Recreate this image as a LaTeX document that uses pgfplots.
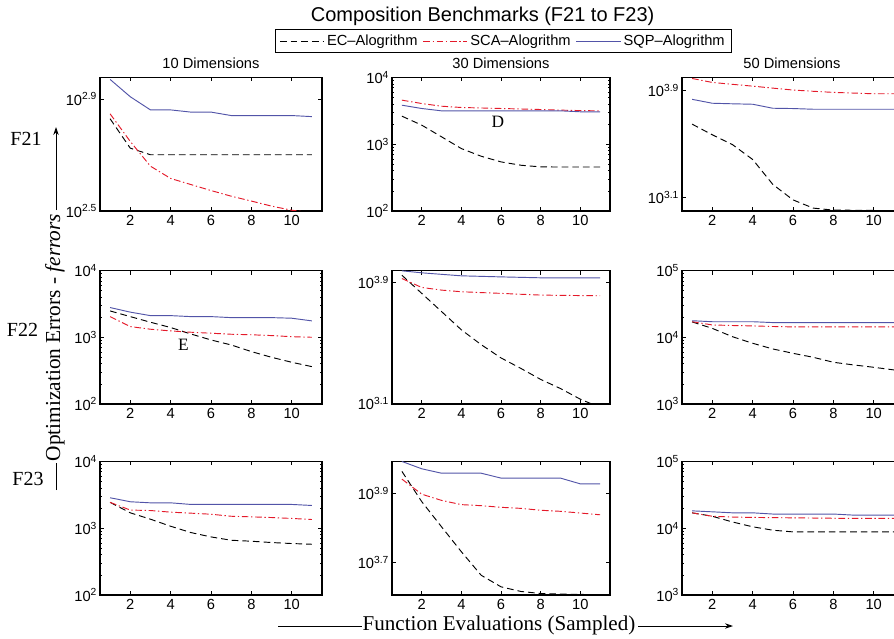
\documentclass[border=0pt]{standalone}
\usepackage{fontspec}
\setmainfont{Liberation Sans}
\newfontfamily\tms{Liberation Serif}
\usepackage{pgfplots}
\pgfplotsset{compat=1.18}
\usetikzlibrary{arrows.meta}

\definecolor{scared}{RGB}{228,26,42}
\definecolor{sqpblue}{RGB}{82,84,168}

\pgfkeys{/pgf/number format/assume math mode=true}
\pgfplotsset{
  panel/.style={
    scale only axis, width=166.5pt, height=100.1pt, anchor=north west,
    log basis y=10,
    xmin=0.5, xmax=11.5, xtick={2,4,6,8,10},
    tick align=inside, tick pos=both,
    axis line style={line width=0.9pt},
    major tick length=3pt, minor tick length=1.6pt,
    every tick/.style={black, line width=0.5pt},
    every tick label/.append style={font=\fontsize{11}{12}\selectfont},
    xticklabel style={font=\fontsize{11}{12}\selectfont},
    yticklabel style={font=\fontsize{11}{12}\selectfont, inner xsep=2pt},
    yticklabel={10\textsuperscript{\pgfmathprintnumber[fixed,precision=1]{\tick}}},
  },
  ec/.style={black, line width=0.7pt, dash pattern=on 5pt off 3pt},
  sca/.style={scared, line width=0.7pt, dash pattern=on 5pt off 2pt on 1pt off 2pt},
  sqp/.style={sqpblue, line width=0.7pt},
}

\begin{document}
\begin{tikzpicture}
\useasboundingbox (0,0) rectangle (670.5pt,-479.25pt);

% ---- row F21 ----
\begin{semilogyaxis}[panel, at={(75pt,-58.1pt)}, ymin=316.23, ymax=948, ytick={316.228,794.328}]
\addplot[ec] coordinates {(1,675)(2,530)(3,502)(4,502)(5,502)(6,502)(7,502)(8,502)(9,502)(10,502)(11,502)};
\addplot[sca] coordinates {(1,703)(2,560)(3,457)(4,413)(5,393)(6,374)(7,357)(8,343)(9,329)(10,318)(11,312)};
\addplot[sqp] coordinates {(1,933)(2,809)(3,726)(4,726)(5,713)(6,713)(7,693)(8,693)(9,693)(10,693)(11,687)};
\end{semilogyaxis}

\begin{semilogyaxis}[panel, width=163.5pt, at={(294pt,-58.1pt)}, ymin=100, ymax=10000,
  legend style={at={(0.511,1.181)}, anchor=south, draw=black, line width=0.9pt, fill=white,
    font=\fontsize{11}{12}\selectfont, inner xsep=3pt, inner ysep=2pt,
    legend columns=3, /tikz/every even column/.append style={column sep=2pt}},
  legend image code/.code={\draw[#1] (0cm,0cm) -- (1.16cm,0cm);},
  legend cell align=left]
\addplot[ec] coordinates {(1,2630)(2,1930)(3,1290)(4,860)(5,660)(6,543)(7,484)(8,457)(9,455)(10,455)(11,455)};
\addlegendentry{EC--Alogrithm}
\addplot[sca] coordinates {(1,4570)(2,4070)(3,3710)(4,3550)(5,3490)(6,3430)(7,3370)(8,3310)(9,3240)(10,3190)(11,3160)};
\addlegendentry{SCA--Alogrithm}
\addplot[sqp] coordinates {(1,3840)(2,3430)(3,3160)(4,3160)(5,3160)(6,3160)(7,3160)(8,3160)(9,3160)(10,3060)(11,3060)};
\addlegendentry{SQP--Alogrithm}
\end{semilogyaxis}

\begin{semilogyaxis}[panel, at={(511.5pt,-58.1pt)}, ymin=1000, ymax=10000, ytick={1258.93,7943.28}]
\addplot[ec] coordinates {(1,4470)(2,3720)(3,3140)(4,2430)(5,1580)(6,1210)(7,1050)(8,1014)(9,1012)(10,1010)(11,995)};
\addplot[sca] coordinates {(1,9830)(2,9180)(3,8880)(4,8610)(5,8320)(6,8050)(7,7880)(8,7730)(9,7640)(10,7550)(11,7550)};
\addplot[sqp] coordinates {(1,6860)(2,6410)(3,6350)(4,6300)(5,5880)(6,5850)(7,5780)(8,5780)(9,5780)(10,5780)(11,5780)};
\end{semilogyaxis}

% ---- row F22 ----
\begin{semilogyaxis}[panel, at={(75pt,-202.9pt)}, ymin=100, ymax=10000]
\addplot[ec] coordinates {(1,2480)(2,2040)(3,1680)(4,1400)(5,1120)(6,912)(7,767)(8,610)(9,501)(10,422)(11,363)};
\addplot[sca] coordinates {(1,2040)(2,1445)(3,1320)(4,1245)(5,1190)(6,1150)(7,1110)(8,1090)(9,1060)(10,1020)(11,1000)};
\addplot[sqp] coordinates {(1,2790)(2,2380)(3,2110)(4,2110)(5,2040)(6,2040)(7,1970)(8,1970)(9,1970)(10,1930)(11,1760)};
\end{semilogyaxis}

\begin{semilogyaxis}[panel, width=163.5pt, at={(294pt,-202.9pt)}, ymin=1245, ymax=9484, ytick={1258.93,7943.28}]
\addplot[ec] coordinates {(1,8830)(2,6700)(3,5080)(4,3850)(5,3070)(6,2510)(7,2140)(8,1810)(9,1575)(10,1340)(11,1180)};
\addplot[sca] coordinates {(1,8400)(2,7330)(3,7040)(4,6870)(5,6780)(6,6700)(7,6610)(8,6530)(9,6500)(10,6480)(11,6460)};
\addplot[sqp] coordinates {(1,9440)(2,9160)(3,8950)(4,8750)(5,8680)(6,8610)(7,8550)(8,8490)(9,8490)(10,8490)(11,8490)};
\end{semilogyaxis}

\begin{semilogyaxis}[panel, at={(511.5pt,-202.9pt)}, ymin=1000, ymax=100000]
\addplot[ec] coordinates {(1,17000)(2,13600)(3,10200)(4,8130)(5,6680)(6,5750)(7,5010)(8,4220)(9,3850)(10,3550)(11,3240)};
\addplot[sca] coordinates {(1,17100)(2,15300)(3,15000)(4,14800)(5,14500)(6,14300)(7,14300)(8,14300)(9,14300)(10,14300)(11,14300)};
\addplot[sqp] coordinates {(1,17700)(2,17100)(3,17100)(4,17100)(5,16600)(6,16600)(7,16600)(8,16600)(9,16600)(10,16600)(11,16600)};
\end{semilogyaxis}

% ---- row F23 ----
\begin{semilogyaxis}[panel, at={(75pt,-346.1pt)}, ymin=100, ymax=10000]
\addplot[ec] coordinates {(1,2440)(2,1700)(3,1365)(4,1070)(5,861)(6,740)(7,660)(8,638)(9,610)(10,589)(11,575)};
\addplot[sca] coordinates {(1,2440)(2,1870)(3,1840)(4,1740)(5,1680)(6,1620)(7,1510)(8,1480)(9,1445)(10,1400)(11,1350)};
\addplot[sqp] coordinates {(1,2860)(2,2490)(3,2400)(4,2400)(5,2270)(6,2270)(7,2270)(8,2270)(9,2270)(10,2270)(11,2190)};
\end{semilogyaxis}

\begin{semilogyaxis}[panel, width=163.5pt, at={(294pt,-346.1pt)}, ymin=4046, ymax=9817, ytick={5011.87,7943.28}]
\addplot[ec] coordinates {(1,9190)(2,7520)(3,6360)(4,5390)(5,4610)(6,4270)(7,4140)(8,4085)(9,4068)(10,4062)(11,4040)};
\addplot[sca] coordinates {(1,8730)(2,7900)(3,7580)(4,7370)(5,7320)(6,7240)(7,7190)(8,7100)(9,7050)(10,6970)(11,6890)};
\addplot[sqp] coordinates {(1,9817)(2,9350)(3,9080)(4,9080)(5,9080)(6,8790)(7,8790)(8,8790)(9,8790)(10,8460)(11,8460)};
\end{semilogyaxis}

\begin{semilogyaxis}[panel, at={(511.5pt,-346.1pt)}, ymin=1000, ymax=100000]
\addplot[ec] coordinates {(1,17000)(2,15100)(3,12400)(4,10500)(5,9330)(6,8800)(7,8800)(8,8800)(9,8800)(10,8800)(11,8800)};
\addplot[sca] coordinates {(1,17000)(2,15100)(3,14700)(4,14500)(5,14400)(6,14300)(7,14200)(8,14100)(9,14000)(10,14000)(11,14000)};
\addplot[sqp] coordinates {(1,18200)(2,17600)(3,17000)(4,17000)(5,16300)(6,16300)(7,16300)(8,16300)(9,15700)(10,15700)(11,15700)};
\end{semilogyaxis}

% ---- titles and labels ----
\node[font=\fontsize{15}{17}\selectfont] at (362pt,-12pt) {Composition Benchmarks (F21 to F23)};
\node[font=\fontsize{11}{12}\selectfont] at (158.25pt,-47.25pt) {10 Dimensions};
\node[font=\fontsize{11}{12}\selectfont] at (375.75pt,-47.25pt) {30 Dimensions};
\node[font=\fontsize{11}{12}\selectfont] at (594pt,-47.25pt) {50 Dimensions};

\node[font=\tms\fontsize{13}{15}\selectfont] at (373.5pt,-91.3pt) {D};
\node[font=\tms\fontsize{13}{15}\selectfont] at (137.5pt,-258.75pt) {E};

\node[font=\tms\fontsize{15}{17}\selectfont] at (19.5pt,-104.25pt) {F21};
\node[font=\tms\fontsize{15}{17}\selectfont] at (16.9pt,-247.5pt) {F22};
\node[font=\tms\fontsize{15}{17}\selectfont] at (21pt,-359.25pt) {F23};

\node[rotate=90, inner sep=0pt, font=\tms\fontsize{16}{18}\selectfont] at (41.25pt,-253.1pt) {Optimization Errors - \textit{ferrors}};
\draw[line width=0.7pt] (42pt,-367.5pt) -- (42pt,-347.25pt);
\draw[line width=0.7pt, -{Stealth[length=6pt,width=4pt]}] (42pt,-157.5pt) -- (42pt,-95.25pt);

\node[inner sep=0pt, font=\tms\fontsize{15.8}{17}\selectfont] at (374.25pt,-469pt) {Function Evaluations (Sampled)};
\draw[line width=0.7pt] (208.5pt,-469.5pt) -- (271.5pt,-469.5pt);
\draw[line width=0.7pt, -{Stealth[length=6pt,width=4pt]}] (478.5pt,-469.5pt) -- (549.75pt,-469.5pt);
\end{tikzpicture}
\end{document}
